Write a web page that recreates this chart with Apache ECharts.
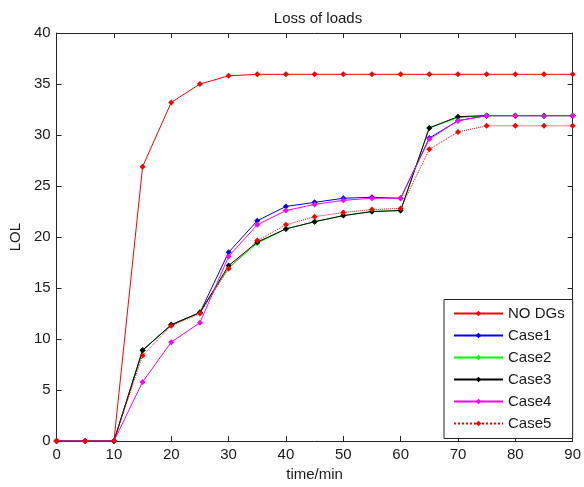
<!DOCTYPE html>
<html>
<head>
<meta charset="utf-8">
<script src="https://cdn.jsdelivr.net/npm/echarts@6/dist/echarts.min.js"></script>
<style>html,body{margin:0;padding:0;background:#fff}#c{width:584px;height:487px}</style>
</head>
<body>
<div id="c"></div>
<script>
const times = [0,5,10,15,20,25,30,35,40,45,50,55,60,65,70,75,80,85,90];
const seriesNames = ['NO DGs','Case1','Case2','Case3','Case4','Case5'];
const noDGs = [0,0,0,26.9,33.2,35.0,35.8,35.95,35.95,35.95,35.95,35.95,35.95,35.95,35.95,35.95,35.95,35.95,35.95];
const case1 = [0,0,0,8.9,11.4,12.6,18.5,21.6,23.0,23.4,23.8,23.9,23.8,29.7,31.4,31.9,31.9,31.9,31.9];
const case2 = [0,0,0,8.9,11.4,12.6,17.0,19.4,20.8,21.5,22.1,22.5,22.6,30.7,31.7,31.9,31.9,31.9,31.9];
const case3 = [0,0,0,8.9,11.4,12.6,17.2,19.5,20.8,21.5,22.1,22.5,22.6,30.7,31.8,31.9,31.9,31.9,31.9];
const case4 = [0,0,0,5.8,9.7,11.6,18.1,21.2,22.6,23.2,23.6,23.8,23.8,29.6,31.4,31.9,31.9,31.9,31.9];
const case5 = [0,0,0,8.4,11.3,12.5,16.9,19.65,21.2,22.0,22.4,22.7,22.8,28.6,30.3,30.9,30.9,30.9,30.9];
const colors = ['#ff0000','#0000ff','#00ff00','#000000','#ff00ff','#ff0000'];
const lineTypes = ['solid','solid','solid','solid','solid','dotted'];
const allValues = [noDGs, case1, case2, case3, case4, case5];

const FONT = 'Liberation Sans, Arial, sans-serif';
const AX = '#262626';

const chart = echarts.init(document.getElementById('c'), null, {renderer:'canvas'});
const series = allValues.map((vals, i) => ({
  name: seriesNames[i],
  type: 'line',
  data: times.map((t, k) => [t, vals[k]]),
  symbol: 'diamond',
  symbolSize: 6,
  showSymbol: true,
  animation: false,
  lineStyle: {color: colors[i], width: 1, type: lineTypes[i]},
  itemStyle: {color: colors[i]},
  emphasis: {disabled: true},
  z: 2 + i
}));

const axisCommon = {
  axisLine: {show: true, onZero: false, lineStyle: {color: AX, width: 1}},
  axisTick: {show: true, inside: true, length: 5, lineStyle: {color: AX}},
  splitLine: {show: false}
};

chart.setOption({
  animation: false,
  backgroundColor: '#fff',
  title: {
    text: 'Loss of loads', left: 313, textAlign: 'center', top: 6,
    textStyle: {fontFamily: FONT, fontSize: 15, fontWeight: 'normal', color: '#1a1a1a'}
  },
  grid: {left: 56, right: 8, top: 33, bottom: 45, containLabel: false},
  legend: {
    orient: 'vertical', left: 444, top: 299.5,
    padding: [3, 8, 4, 9],
    itemGap: 0,
    itemWidth: 49, itemHeight: 7,
    borderColor: AX, borderWidth: 1, backgroundColor: '#fff',
    textStyle: {fontFamily: FONT, fontSize: 15, color: '#1a1a1a', lineHeight: 22},
    data: seriesNames
  },
  xAxis: [
    Object.assign({
      type: 'value', min: 0, max: 90, interval: 10, position: 'bottom',
      name: 'time/min', nameLocation: 'middle', nameGap: 21,
      nameTextStyle: {fontFamily: FONT, fontSize: 15, color: '#1a1a1a'},
      axisLabel: {fontFamily: FONT, fontSize: 15, color: '#1a1a1a', margin: 6}
    }, axisCommon),
    Object.assign({
      type: 'value', min: 0, max: 90, interval: 10, position: 'top',
      axisLabel: {show: false}
    }, axisCommon)
  ],
  yAxis: [
    Object.assign({
      type: 'value', min: 0, max: 40, interval: 5, position: 'left',
      name: 'LOL', nameLocation: 'middle', nameGap: 32,
      nameTextStyle: {fontFamily: FONT, fontSize: 15, color: '#1a1a1a'},
      axisLabel: {fontFamily: FONT, fontSize: 15, color: '#1a1a1a', margin: 6}
    }, axisCommon),
    Object.assign({
      type: 'value', min: 0, max: 40, interval: 5, position: 'right',
      axisLabel: {show: false}
    }, axisCommon)
  ],
  series: series
});
</script>
</body>
</html>
